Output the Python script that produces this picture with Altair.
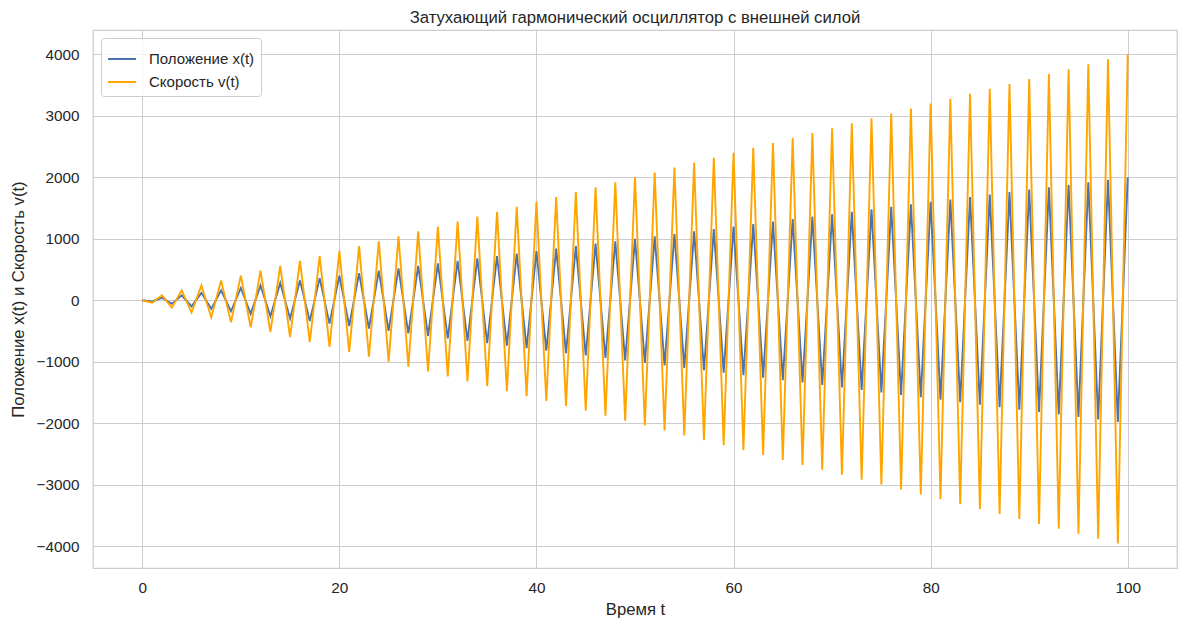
import altair as alt
import pandas as pd

t_vals = [
    0, 1, 2, 3, 4, 5, 6, 7, 8, 9, 10, 11, 12, 13, 14, 15, 16, 17, 18, 19,
    20, 21, 22, 23, 24, 25, 26, 27, 28, 29, 30, 31, 32, 33, 34, 35, 36, 37, 38, 39,
    40, 41, 42, 43, 44, 45, 46, 47, 48, 49, 50, 51, 52, 53, 54, 55, 56, 57, 58, 59,
    60, 61, 62, 63, 64, 65, 66, 67, 68, 69, 70, 71, 72, 73, 74, 75, 76, 77, 78, 79,
    80, 81, 82, 83, 84, 85, 86, 87, 88, 89, 90, 91, 92, 93, 94, 95, 96, 97, 98, 99,
    100,
]

position = [
    0, -20, 40, -60, 80, -100, 120, -140, 160, -180,
    200, -220, 240, -260, 280, -300, 320, -340, 360, -380,
    400, -420, 440, -460, 480, -500, 520, -540, 560, -580,
    600, -620, 640, -660, 680, -700, 720, -740, 760, -780,
    800, -820, 840, -860, 880, -900, 920, -940, 960, -980,
    1000, -1020, 1040, -1060, 1080, -1100, 1120, -1140, 1160, -1180,
    1200, -1220, 1240, -1260, 1280, -1300, 1320, -1340, 1360, -1380,
    1400, -1420, 1440, -1460, 1480, -1500, 1520, -1540, 1560, -1580,
    1600, -1620, 1640, -1660, 1680, -1700, 1720, -1740, 1760, -1780,
    1800, -1820, 1840, -1860, 1880, -1900, 1920, -1940, 1960, -1980,
    2000,
]

velocity = [
    0, -40, 80, -120, 160, -200, 240, -280, 320, -360,
    400, -440, 480, -520, 560, -600, 640, -680, 720, -760,
    800, -840, 880, -920, 960, -1000, 1040, -1080, 1120, -1160,
    1200, -1240, 1280, -1320, 1360, -1400, 1440, -1480, 1520, -1560,
    1600, -1640, 1680, -1720, 1760, -1800, 1840, -1880, 1920, -1960,
    2000, -2040, 2080, -2120, 2160, -2200, 2240, -2280, 2320, -2360,
    2400, -2440, 2480, -2520, 2560, -2600, 2640, -2680, 2720, -2760,
    2800, -2840, 2880, -2920, 2960, -3000, 3040, -3080, 3120, -3160,
    3200, -3240, 3280, -3320, 3360, -3400, 3440, -3480, 3520, -3560,
    3600, -3640, 3680, -3720, 3760, -3800, 3840, -3880, 3920, -3960,
    4000,
]

series_names = ["Положение x(t)", "Скорость v(t)"]
series_colors = ["#4c72b0", "#ffa500"]

x_ticks = [0, 20, 40, 60, 80, 100]
y_ticks = [-4000, -3000, -2000, -1000, 0, 1000, 2000, 3000, 4000]

rows = []
for i, t in enumerate(t_vals):
    rows.append({"t": t, "value": position[i], "series": series_names[0], "ord": 0})
for i, t in enumerate(t_vals):
    rows.append({"t": t, "value": velocity[i], "series": series_names[1], "ord": 1})
df = pd.DataFrame(rows)

FONT = "Liberation Sans"
TXT = "#262626"
GRID = "#cccccc"

chart = (
    alt.Chart(df)
    .mark_line(strokeWidth=1.9)
    .encode(
        x=alt.X(
            "t:Q",
            scale=alt.Scale(domain=[-5, 105], nice=False, zero=False),
            axis=alt.Axis(values=x_ticks, title="Время t", format="d"),
        ),
        y=alt.Y(
            "value:Q",
            scale=alt.Scale(domain=[-4358, 4398], nice=False, zero=False),
            axis=alt.Axis(
                values=y_ticks,
                title="Положение x(t) и Скорость v(t)",
                format="d",
            ),
        ),
        color=alt.Color(
            "series:N",
            scale=alt.Scale(domain=series_names, range=series_colors),
            legend=alt.Legend(
                title=None,
                orient="none",
                legendX=8,
                legendY=8,
                symbolType="stroke",
                symbolSize=784,
                symbolStrokeWidth=2,
                labelFontSize=15,
                labelFont=FONT,
                labelColor=TXT,
                labelOffset=12,
                rowPadding=0,
                padding=6,
                strokeColor=GRID,
                fillColor="rgba(255,255,255,0.8)",
                cornerRadius=3,
            ),
        ),
        order=alt.Order("ord:Q"),
    )
    .properties(
        width=1084,
        height=538,
        title=alt.TitleParams(
            "Затухающий гармонический осциллятор с внешней силой",
            fontSize=16.7,
            font=FONT,
            fontWeight="normal",
            color=TXT,
            offset=3,
            anchor="middle",
        ),
        autosize=alt.AutoSizeParams(type="none"),
        padding={"left": 85, "top": 22, "right": 2, "bottom": 56},
    )
    .configure_view(stroke=GRID, strokeWidth=1.25)
    .configure_axis(
        grid=True,
        gridColor=GRID,
        gridWidth=1,
        domain=False,
        ticks=False,
        labelFont=FONT,
        labelFontSize=15.3,
        labelColor=TXT,
        titleFont=FONT,
        titleFontSize=16.7,
        titleFontWeight="normal",
        titleColor=TXT,
    )
    .configure_axisX(labelPadding=12, titlePadding=6)
    .configure_axisY(labelPadding=14, titlePadding=9)
)

chart.save("out.html", embed_options={"renderer": "svg", "actions": False})
